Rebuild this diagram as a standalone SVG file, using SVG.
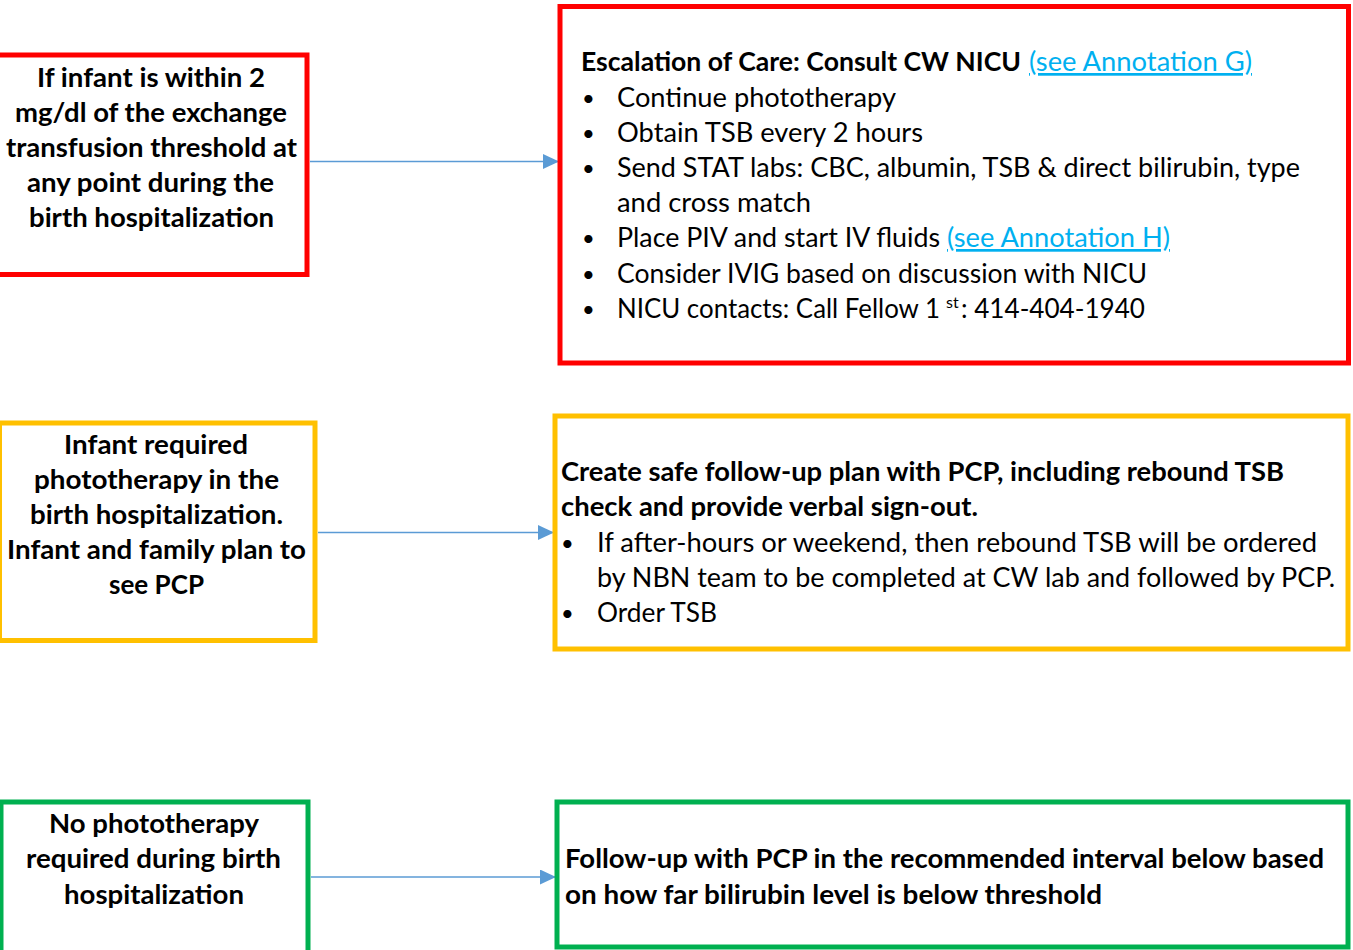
<svg xmlns="http://www.w3.org/2000/svg" width="1353" height="950" viewBox="0 0 1353 950">
<style>
text{font-family:Lato,"Open Sans","Liberation Sans",sans-serif;font-size:27px;fill:#000}
.b{font-weight:bold}
.bu{font-size:22px}
.lk{fill:#00B0F0;text-decoration:underline}
.box{fill:#fff;stroke-width:5}
.red{stroke:#FF0000}
.yel{stroke:#FFC000}
.grn{stroke:#00B050}
.con{stroke:#5B9BD5;stroke-width:1.3;fill:none}
</style>
<defs>
<marker id="ah" markerUnits="userSpaceOnUse" markerWidth="17" markerHeight="16" refX="16" refY="7.5" orient="auto">
<path d="M0,0 L16,7.5 L0,15 z" fill="#5B9BD5"/>
</marker>
</defs>
<rect width="1353" height="950" fill="#fff"/>
<g id="connectors">
<line class="con" x1="310" y1="161.5" x2="559" y2="161.5" marker-end="url(#ah)"/>
<line class="con" x1="318" y1="532.5" x2="554" y2="532.5" marker-end="url(#ah)"/>
<line class="con" x1="311" y1="877" x2="556" y2="877" marker-end="url(#ah)"/>
</g>
<g id="node-exchange">
<rect class="box red" x="-20" y="55" width="327" height="219.5"/>
<text class="b" x="37" y="87" textLength="228" lengthAdjust="spacingAndGlyphs">If infant is within 2</text>
<text class="b" x="15" y="122" textLength="272" lengthAdjust="spacingAndGlyphs">mg/dl of the exchange</text>
<text class="b" x="6" y="157" textLength="291" lengthAdjust="spacingAndGlyphs">transfusion threshold at</text>
<text class="b" x="27" y="192" textLength="247" lengthAdjust="spacingAndGlyphs">any point during the</text>
<text class="b" x="29" y="227" textLength="245" lengthAdjust="spacingAndGlyphs">birth hospitalization</text>
</g>
<g id="node-escalation">
<rect class="box red" x="560" y="6.5" width="788.5" height="356.5"/>
<text class="b" x="581" y="71" textLength="440" lengthAdjust="spacingAndGlyphs">Escalation of Care: Consult CW NICU</text>
<text class="lk" x="1029" y="71" textLength="223" lengthAdjust="spacingAndGlyphs">(see Annotation G)</text>
<text class="bu" x="582" y="106">•</text>
<text x="617" y="107" textLength="279" lengthAdjust="spacingAndGlyphs">Continue phototherapy</text>
<text class="bu" x="582" y="141">•</text>
<text x="617" y="142" textLength="306" lengthAdjust="spacingAndGlyphs">Obtain TSB  every 2 hours</text>
<text class="bu" x="582" y="176">•</text>
<text x="617" y="177" textLength="683" lengthAdjust="spacingAndGlyphs">Send STAT labs: CBC, albumin, TSB &amp; direct bilirubin, type</text>
<text x="617" y="212" textLength="194" lengthAdjust="spacingAndGlyphs">and cross match</text>
<text class="bu" x="582" y="246">•</text>
<text x="617" y="247" textLength="323" lengthAdjust="spacingAndGlyphs">Place PIV and start IV fluids</text>
<text class="lk" x="947" y="247" textLength="223" lengthAdjust="spacingAndGlyphs">(see Annotation H)</text>
<text class="bu" x="582" y="282">•</text>
<text x="617" y="283" textLength="530" lengthAdjust="spacingAndGlyphs">Consider IVIG based on discussion with NICU</text>
<text class="bu" x="582" y="317">•</text>
<text x="617" y="318"><tspan textLength="323" lengthAdjust="spacingAndGlyphs">NICU contacts: Call Fellow 1</tspan><tspan x="946" y="308" font-size="16">st</tspan><tspan x="961" y="318" textLength="184" lengthAdjust="spacingAndGlyphs">: 414-404-1940</tspan></text>
</g>
<g id="node-phototherapy">
<rect class="box yel" x="-0.5" y="423" width="315.5" height="217.5"/>
<text class="b" x="64" y="454" textLength="184" lengthAdjust="spacingAndGlyphs">Infant required</text>
<text class="b" x="34" y="489" textLength="245" lengthAdjust="spacingAndGlyphs">phototherapy in the</text>
<text class="b" x="30" y="524" textLength="253" lengthAdjust="spacingAndGlyphs">birth hospitalization.</text>
<text class="b" x="7" y="559" textLength="299" lengthAdjust="spacingAndGlyphs">Infant and family plan to</text>
<text class="b" x="109" y="594" textLength="95" lengthAdjust="spacingAndGlyphs">see PCP</text>
</g>
<g id="node-followup-plan">
<rect class="box yel" x="555" y="416" width="793" height="233"/>
<text class="b" x="561" y="481" textLength="723" lengthAdjust="spacingAndGlyphs">Create safe follow-up plan with PCP, including rebound TSB</text>
<text class="b" x="561" y="516" textLength="417" lengthAdjust="spacingAndGlyphs">check and provide verbal sign-out.</text>
<text class="bu" x="561" y="551">•</text>
<text x="597" y="552" textLength="720" lengthAdjust="spacingAndGlyphs">If after-hours or weekend, then rebound TSB will be ordered</text>
<text x="597" y="587" textLength="738" lengthAdjust="spacingAndGlyphs">by NBN team to be completed at CW lab and followed by PCP.</text>
<text class="bu" x="561" y="621">•</text>
<text x="597" y="622" textLength="120" lengthAdjust="spacingAndGlyphs">Order TSB</text>
</g>
<g id="node-no-phototherapy">
<rect class="box grn" x="1" y="802" width="307" height="170"/>
<text class="b" x="49" y="833" textLength="210" lengthAdjust="spacingAndGlyphs">No phototherapy</text>
<text class="b" x="26" y="868" textLength="255" lengthAdjust="spacingAndGlyphs">required during birth</text>
<text class="b" x="64" y="904" textLength="180" lengthAdjust="spacingAndGlyphs">hospitalization</text>
</g>
<g id="node-followup-interval">
<rect class="box grn" x="557" y="802" width="791" height="145"/>
<text class="b" x="565" y="868" textLength="759" lengthAdjust="spacingAndGlyphs">Follow-up with PCP in the recommended interval below based</text>
<text class="b" x="565" y="904" textLength="537" lengthAdjust="spacingAndGlyphs">on how far bilirubin level is below threshold</text>
</g>
</svg>
